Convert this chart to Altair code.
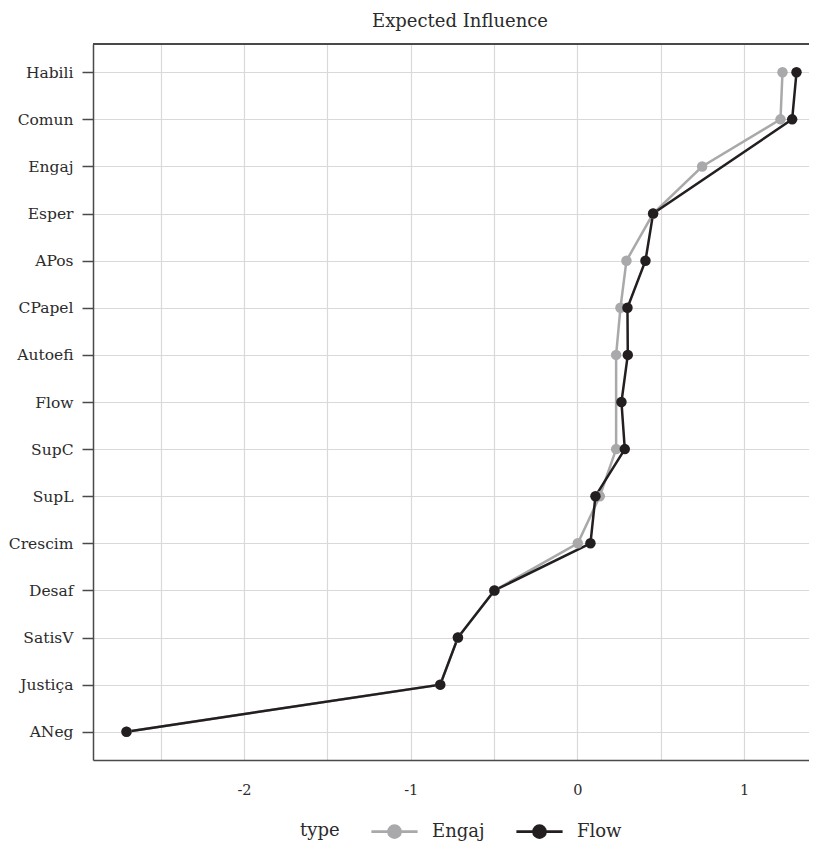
import altair as alt
import pandas as pd

categories = ["Habili", "Comun", "Engaj", "Esper", "APos", "CPapel", "Autoefi", "Flow",
              "SupC", "SupL", "Crescim", "Desaf", "SatisV", "Justiça", "ANeg"]
engaj = [1.230, 1.218, 0.748, 0.454, 0.294, 0.258, 0.232, None, 0.232, 0.134, 0.002,
         -0.498, -0.717, -0.823, -2.705]
flow = [1.314, 1.288, None, 0.454, 0.408, 0.300, 0.302, 0.264, 0.284, 0.108, 0.078,
        -0.498, -0.717, -0.823, -2.705]
types = ["Engaj", "Flow"]
colors = ["#a9a9ab", "#231f20"]
grid_values = [-2.5, -2.0, -1.5, -1.0, -0.5, 0.0, 0.5, 1.0]

rows = []
for t, vals in zip(types, [engaj, flow]):
    for i, (c, v) in enumerate(zip(categories, vals)):
        if v is not None:
            rows.append({"node": c, "idx": i, "type": t, "value": v})
df = pd.DataFrame(rows)

FONT = "DejaVu Serif"
TXT = "#2b2b2b"
AX = "#4a4a4a"
W, H = 716, 716

x = alt.X("value:Q",
          scale=alt.Scale(domain=[-2.906, 1.389], nice=False, zero=False),
          axis=alt.Axis(values=grid_values, title=None, ticks=False, tickSize=0,
                        labelExpr="datum.value % 1 == 0 ? '' + datum.value : ''",
                        labelPadding=23, labelFontSize=14.5, labelFont=FONT, labelColor=TXT,
                        gridColor="#d9d9d9", gridWidth=1.2,
                        domainColor=AX, domainWidth=1.5))
y = alt.Y("node:N", sort=categories,
          scale=alt.Scale(type="point", padding=0.6),
          axis=alt.Axis(title=None, tickSize=11, tickColor=AX, tickWidth=1.5, grid=True,
                        labelPadding=9, labelFontSize=15.5, labelFont=FONT, labelColor=TXT,
                        gridColor="#d9d9d9", gridWidth=1.2,
                        domainColor=AX, domainWidth=1.5))
cscale = alt.Scale(domain=types, range=colors)

legend = alt.Legend(orient="none", legendX=207, legendY=775, direction="horizontal",
                    title="type", titleOrient="left", titleFont=FONT, titleFontSize=18,
                    titleFontWeight="normal", titleColor=TXT, titlePadding=42,
                    titleBaseline="middle",
                    labelFont=FONT, labelFontSize=18, labelColor=TXT, labelOffset=25,
                    columnPadding=26,
                    symbolType="M-2.1,0L2.1,0M-0.55,0A0.55,0.55,0,1,1,0.55,0A0.55,0.55,0,1,1,-0.55,0Z",
                    symbolSize=484, symbolStrokeWidth=2.6)

lines = alt.Chart(df).mark_line(strokeWidth=2.5).encode(
    x=x, y=y,
    color=alt.Color("type:N", scale=cscale, legend=legend),
    order=alt.Order("idx:Q"),
    detail="type:N",
)
points = alt.Chart(df).mark_point(filled=True, size=110, opacity=1).encode(
    x=x, y=y,
    color=alt.Color("type:N", scale=cscale, legend=legend),
)
top = alt.Chart(df).mark_rule(color=AX, strokeWidth=1.5).encode(
    x=alt.value(0), x2=alt.value(W), y=alt.value(0)
)

chart = alt.layer(lines, points, top).properties(
    width=W, height=H,
    autosize=alt.AutoSizeParams(type="none"),
    padding={"left": 85, "top": 36, "right": 0, "bottom": 85},
    title=alt.TitleParams("Expected Influence", font=FONT, fontSize=18, fontWeight="normal",
                          color=TXT, anchor="middle", dx=9, offset=12),
).configure_view(stroke=None)

chart.save("out.html", embed_options={"renderer": "svg", "actions": False})
